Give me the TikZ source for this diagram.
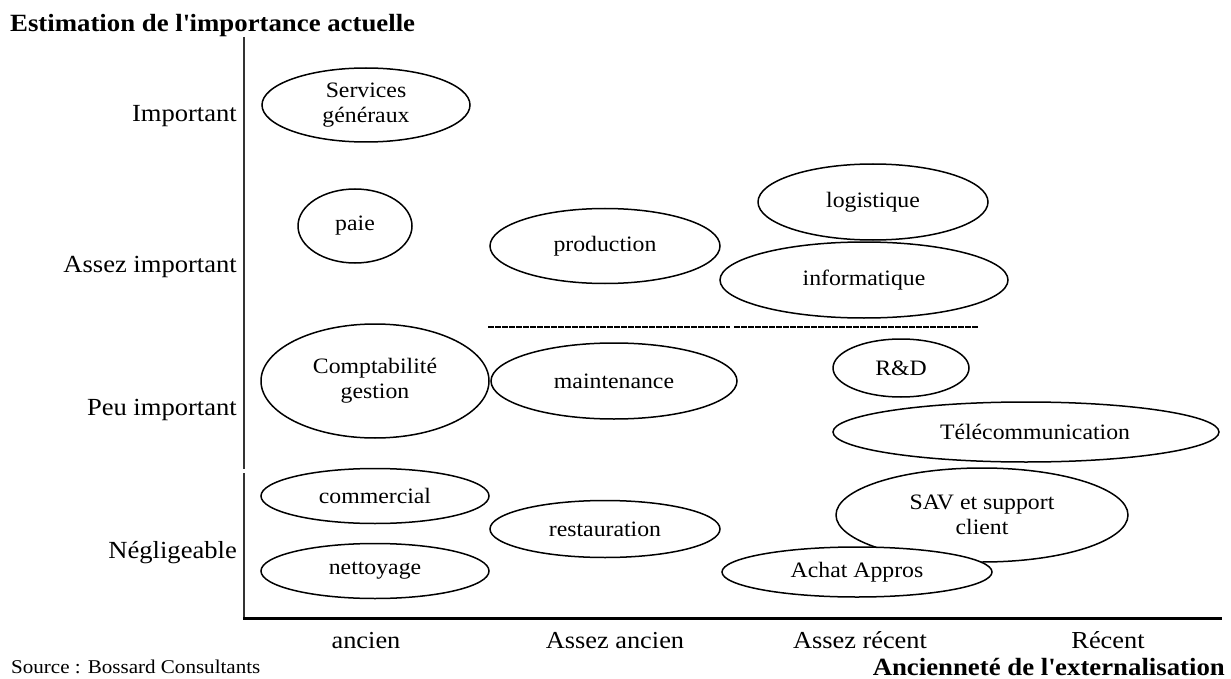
\documentclass[tikz,border=0pt]{standalone}
\usepackage{fontspec}
\setmainfont{Liberation Serif}[FakeStretch=1.08]
\usetikzlibrary{shapes.geometric}
\begin{document}
\begin{tikzpicture}[x=1pt,y=-1pt,
  bubble/.style={draw=black,line width=1.5pt,ellipse,fill=white,inner sep=0pt,align=center,
     font=\fontsize{22}{25}\selectfont},
  ylab/.style={anchor=base east,inner sep=0pt,font=\fontsize{24.6}{26}\selectfont},
  xlab/.style={anchor=base,inner sep=0pt,font=\fontsize{24.4}{26}\selectfont},
  axtitle/.style={inner sep=0pt,font=\fontsize{24.8}{26}\selectfont\bfseries},
  sepline/.style={line width=1.1pt,dash pattern=on 6pt off 1pt},
]
\useasboundingbox (0,0) rectangle (1231,679);
% axes
\coordinate (vtop) at (244,37);
\coordinate (vbrk1) at (244,469);
\coordinate (vbrk2) at (244,473);
\coordinate (orig) at (244,618);
\coordinate (h1) at (490,618);
\coordinate (h2) at (738,618);
\coordinate (h3) at (985,618);
\coordinate (hend) at (1222,618);
\draw[line width=2pt,black!80] (vtop) -- (vbrk1);
\draw[line width=2pt,black!80] (vbrk2) -- (orig);
\draw[line width=3pt] (243,618) -- (h1) -- (h2) -- (h3) -- (hend);
% dashed separators
\coordinate (d1a) at (488,327);
\coordinate (d1b) at (730,327);
\coordinate (d2a) at (734,327);
\coordinate (d2b) at (979,327);
\draw[sepline] (d1a) -- (d1b);
\draw[sepline] (d2a) -- (d2b);
% titles
\node[axtitle,anchor=base west] (ytitle) at (10,32) {Estimation de l\textquotesingle importance actuelle};
\node[axtitle,anchor=base east] (xtitle) at (1225,675) {Ancienneté de l\textquotesingle externalisation};
\node[inner sep=0pt,anchor=base west,font=\fontsize{19.5}{20}\selectfont] (src) at (11,673) {Source : Bossard Consultants};
% y labels
\node[ylab] (yl1) at (237,122) {Important};
\node[ylab] (yl2) at (237,272) {Assez important};
\node[ylab] (yl3) at (237,415) {Peu important};
\node[ylab] (yl4) at (237,558) {Négligeable};
% x labels
\node[xlab] (xl1) at (366,648) {ancien};
\node[xlab] (xl2) at (615,648) {Assez ancien};
\node[xlab] (xl3) at (860,648) {Assez récent};
\node[xlab] (xl4) at (1108,648) {Récent};
% bubbles
\node[bubble,minimum width=208pt,minimum height=74pt] (serv) at (366,105) {Services\\généraux};
\node[bubble,minimum width=114pt,minimum height=74pt] (paie) at (355,226) {paie};
\node[bubble,minimum width=230pt,minimum height=75pt] (prod) at (605,246) {production};
\node[bubble,minimum width=228pt,minimum height=114pt] (compta) at (375,381) {Comptabilité\\gestion};
\node[bubble,minimum width=246pt,minimum height=76pt] (maint) at (614,381) {maintenance};
\node[bubble,minimum width=230pt,minimum height=76pt] (logi) at (873,202) {logistique};
\node[bubble,minimum width=288pt,minimum height=76pt] (info) at (864,280) {informatique};
\node[bubble,minimum width=136pt,minimum height=58pt] (rd) at (901,368) {R\&D};
\node[bubble,minimum width=386pt,minimum height=60pt] (tele) at (1026,432) {\hspace*{18pt}Télécommunication};
\node[bubble,minimum width=228pt,minimum height=55pt] (comm) at (375,496) {commercial};
\node[bubble,minimum width=228pt,minimum height=55pt] (nett) at (375,571) {nettoyage};
\node[bubble,minimum width=230pt,minimum height=57pt] (rest) at (605,529) {restauration};
\node[bubble,minimum width=292pt,minimum height=94pt] (sav) at (982,515) {SAV et support\\client};
\node[bubble,minimum width=270pt,minimum height=50pt] (achat) at (857,572) {Achat Appros};
\end{tikzpicture}
\end{document}
